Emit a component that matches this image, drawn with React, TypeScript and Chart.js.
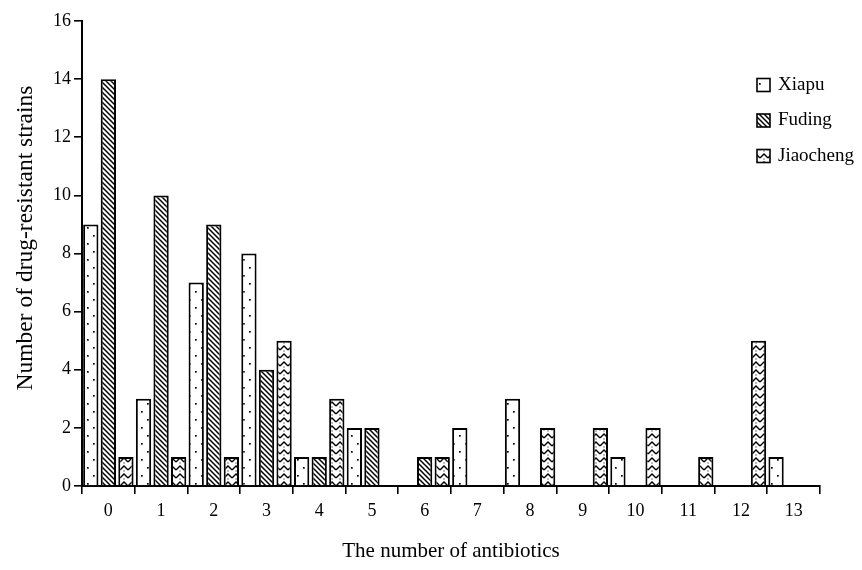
import React, { useEffect, useRef } from "react";
import { Chart, registerables } from "chart.js";

Chart.register(...registerables);

const categories = ["0", "1", "2", "3", "4", "5", "6", "7", "8", "9", "10", "11", "12", "13"];
const xiapu = [9, 3, 7, 8, 1, 2, 0, 2, 3, 0, 1, 0, 0, 1];
const fuding = [14, 10, 9, 4, 1, 2, 1, 0, 0, 0, 0, 0, 0, 0];
const jiaocheng = [1, 1, 1, 5, 3, 0, 1, 0, 2, 2, 2, 1, 5, 0];
const seriesNames = ["Xiapu", "Fuding", "Jiaocheng"];
const xTitle = "The number of antibiotics";
const yTitle = "Number of drug-resistant strains";

const FONT = "'Liberation Serif', 'Times New Roman', serif";

function tile(w: number, h: number, draw: (g: CanvasRenderingContext2D) => void) {
  const c = document.createElement("canvas");
  c.width = w;
  c.height = h;
  const g = c.getContext("2d")!;
  g.fillStyle = "#fff";
  g.fillRect(0, 0, w, h);
  g.fillStyle = "#000";
  g.strokeStyle = "#000";
  draw(g);
  const ctx = document.createElement("canvas").getContext("2d")!;
  return ctx.createPattern(c, "repeat")!;
}

function dotsPattern() {
  return tile(12, 16, (g) => {
    g.fillRect(3, 3, 1.7, 1.7);
    g.fillRect(9, 11, 1.7, 1.7);
  });
}

function hatchPattern() {
  return tile(5, 5, (g) => {
    g.lineWidth = 1.5;
    g.beginPath();
    g.moveTo(-1, -1);
    g.lineTo(6, 6);
    g.moveTo(-1, 4);
    g.lineTo(1, 6);
    g.moveTo(4, -1);
    g.lineTo(6, 1);
    g.stroke();
  });
}

function chevronPattern() {
  return tile(8, 8, (g) => {
    g.lineWidth = 1.4;
    g.beginPath();
    g.moveTo(0, 6);
    g.lineTo(4, 2);
    g.lineTo(8, 6);
    g.stroke();
    g.fillRect(3.5, 6.5, 1, 1);
  });
}

const legendPlugin = {
  id: "customLegend",
  afterDraw(chart: any) {
    const ctx = chart.ctx as CanvasRenderingContext2D;
    ctx.save();
    chart.data.datasets.forEach((ds: any, i: number) => {
      const y = 85 + i * 35.5;
      ctx.fillStyle = ds.backgroundColor;
      ctx.fillRect(757, y - 6.5, 13, 13);
      ctx.strokeStyle = "#000";
      ctx.lineWidth = 1.6;
      ctx.strokeRect(757, y - 6.5, 13, 13);
      ctx.fillStyle = "#000";
      ctx.font = `19px ${FONT}`;
      ctx.textBaseline = "middle";
      ctx.textAlign = "left";
      ctx.fillText(ds.label, 778, y);
    });
    ctx.restore();
  },
};

const yTitlePlugin = {
  id: "yTitle",
  afterDraw(chart: any) {
    const ctx = chart.ctx as CanvasRenderingContext2D;
    ctx.save();
    ctx.translate(26, 238);
    ctx.rotate(-Math.PI / 2);
    ctx.fillStyle = "#000";
    ctx.font = `23.5px ${FONT}`;
    ctx.textAlign = "center";
    ctx.textBaseline = "middle";
    ctx.fillText(yTitle, 0, 0);
    ctx.restore();
  },
};

export default function App() {
  const ref = useRef<HTMLCanvasElement | null>(null);

  useEffect(() => {
    if (!ref.current) return;
    const patterns = [dotsPattern(), hatchPattern(), chevronPattern()];
    const values = [xiapu, fuding, jiaocheng];
    const chart = new Chart(ref.current, {
      type: "bar",
      data: {
        labels: categories,
        datasets: seriesNames.map((name, i) => ({
          label: name,
          data: values[i],
          backgroundColor: patterns[i] as any,
          borderColor: "#000",
          borderWidth: 2,
          barPercentage: 0.87,
          categoryPercentage: 1.0,
        })),
      },
      options: {
        animation: false,
        responsive: false,
        devicePixelRatio: 1,
        layout: { padding: { left: 0, right: 42, top: 21, bottom: 0 } },
        plugins: {
          legend: { display: false },
          tooltip: { enabled: false },
        },
        scales: {
          x: {
            type: "category",
            offset: true,
            grid: {
              offset: true,
              drawOnChartArea: false,
              drawTicks: true,
              tickLength: 8,
              color: "#000",
              lineWidth: 1.6,
            },
            border: { display: true, color: "#000", width: 2 },
            ticks: { color: "#000", font: { family: FONT, size: 18 }, padding: 6, maxRotation: 0 },
            title: {
              display: true,
              text: xTitle,
              color: "#000",
              font: { family: FONT, size: 21 },
              padding: { top: 0, bottom: 6 },
            },
            afterFit(scale: any) {
              scale.height = 84;
            },
          },
          y: {
            min: 0,
            max: 16,
            ticks: { stepSize: 2, color: "#000", font: { family: FONT, size: 18 }, padding: 3 },
            grid: {
              drawOnChartArea: false,
              drawTicks: true,
              tickLength: 8,
              color: "#000",
              lineWidth: 1.6,
            },
            border: { display: true, color: "#000", width: 2 },
            title: { display: false, text: yTitle },
            afterFit(scale: any) {
              scale.width = 82;
            },
          },
        },
      },
      plugins: [legendPlugin, yTitlePlugin],
    });
    return () => chart.destroy();
  }, []);

  return (
    <canvas
      ref={ref}
      width={862}
      height={570}
      style={{ position: "absolute", left: 0, top: 0, width: 862, height: 570 }}
    />
  );
}
